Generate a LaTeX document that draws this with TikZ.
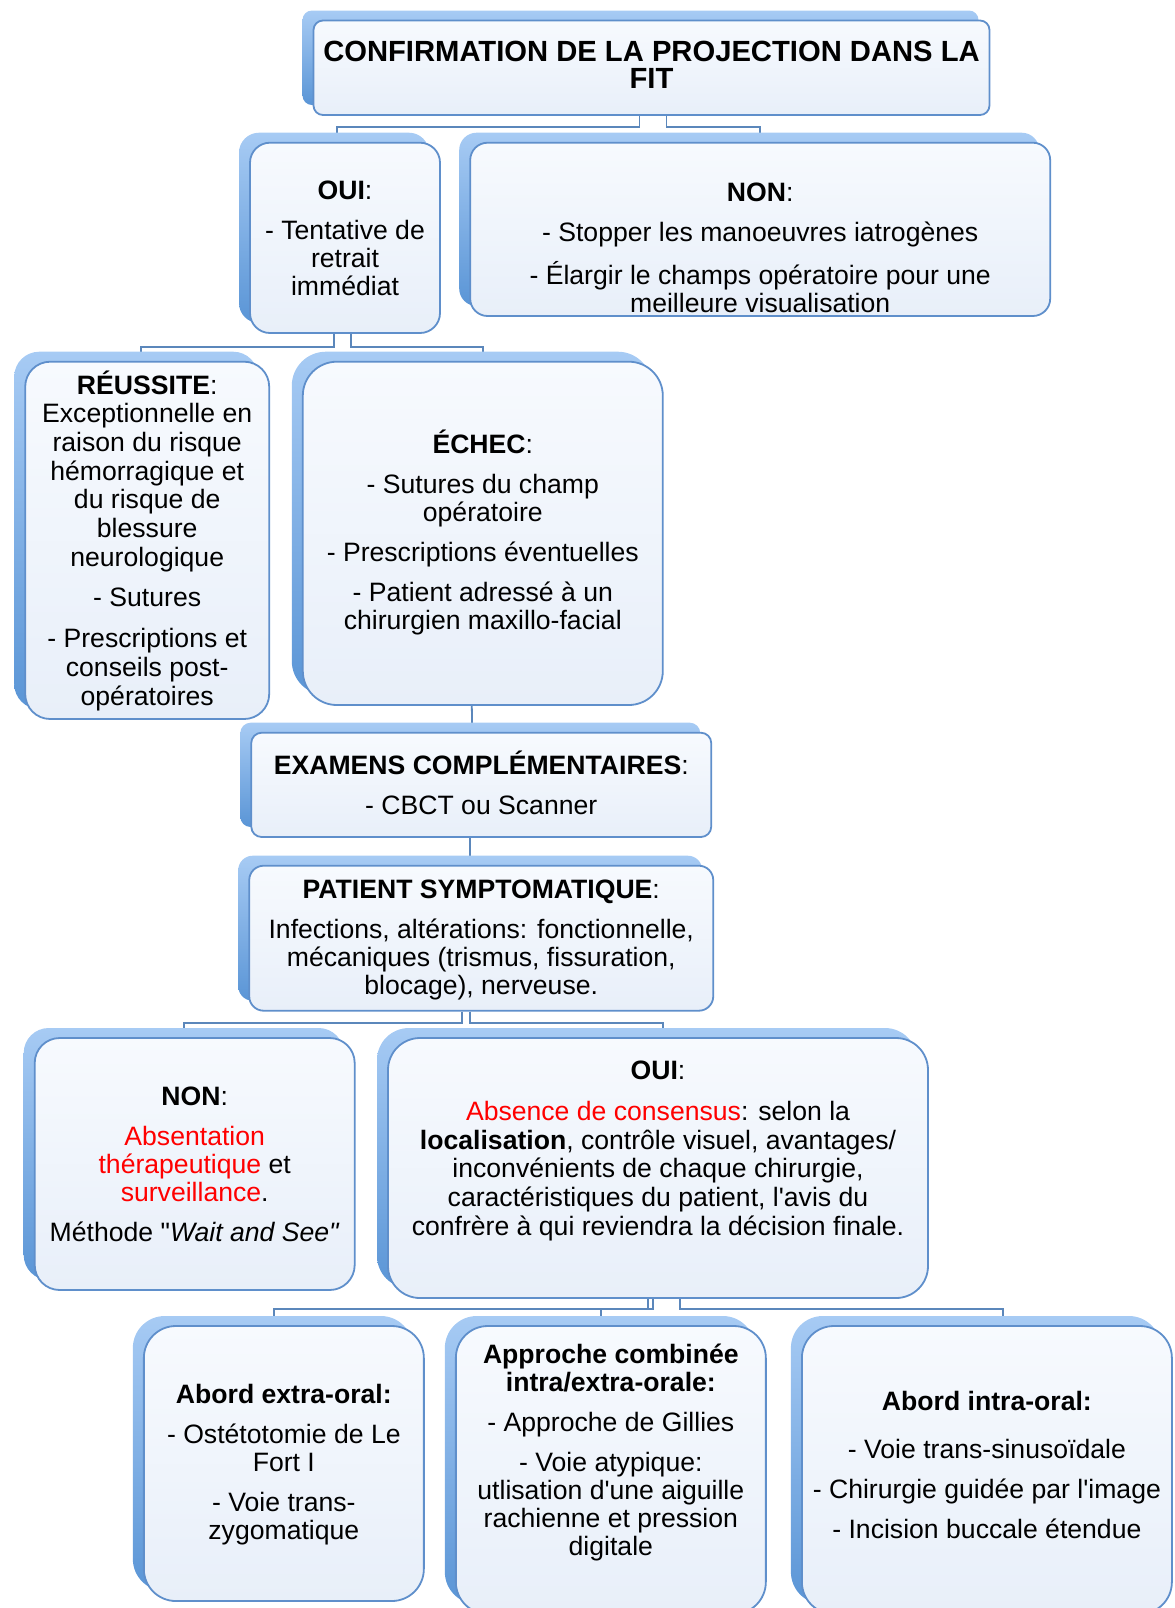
\documentclass[tikz,border=0pt]{standalone}
\usepackage{fontspec}
\setmainfont{Liberation Sans}
\usetikzlibrary{fit,backgrounds}
\definecolor{shtop}{HTML}{A7CBF4}
\definecolor{shbot}{HTML}{5A95D6}
\definecolor{boxtop}{HTML}{F7FAFE}
\definecolor{boxbot}{HTML}{E8EFF9}
\definecolor{boxline}{HTML}{5F8FCB}
\definecolor{linkcol}{HTML}{5B87BB}
\newcommand{\gap}{\\[6pt]}
\newcommand{\apos}{\textquotesingle}
\tikzset{
  smartbox/.style={inner sep=0pt, draw=boxline, line width=0.9pt,
    top color=boxtop, bottom color=boxbot, rounded corners=#1,
    align=center, font=\fontsize{13.3}{14}\selectfont,
    preaction={draw=none, top color=shtop, bottom color=shbot,
      transform canvas={shift={(-5.5pt,5pt)}}}},
  % positive lifts the text, negative lowers it
  textshift/.style={execute at end node={\par\vspace*{#1}}},
  link/.style={draw=linkcol, line width=0.9pt}
}
\begin{document}
\begin{tikzpicture}[x=0.5pt, y=-0.5pt]
  \useasboundingbox (0,0) rectangle (1174,1608);
  \node[smartbox=4.75pt, fit={(310,20.5) (993,115)}, text width=338pt, textshift=-7pt,
    font=\fontsize{14.6}{13.4}\selectfont\bfseries] (conf)
    {CONFIRMATION DE LA PROJECTION DANS LA\\FIT};
  \node[smartbox=10pt, fit={(246,142.7) (444,333)}, text width=95pt, textshift=-10pt] (oui1)
    {\textbf{OUI}:\gap - Tentative de\\retrait\\immédiat};
  \node[smartbox=8.7pt, fit={(464.4,142.7) (1056,316)}, text width=290pt, textshift=-27.5pt] (non1)
    {\textbf{NON}:\gap - Stopper les manoeuvres iatrogènes\gap
     - Élargir le champs opératoire pour une\\meilleure visualisation};
  \node[smartbox=12.5pt, fit={(21.4,361.7) (273,719)}, text width=122pt, textshift=-12pt,
    font=\fontsize{13.3}{14.35}\selectfont] (reussite)
    {\textbf{RÉUSSITE}:\\Exceptionnelle en\\raison du risque\\hémorragique et\\du risque de\\
     blessure\\neurologique\gap - Sutures\gap - Prescriptions et\\conseils post-\\opératoires};
  \node[smartbox=17pt, fit={(296,361.7) (669.6,705)}, text width=180pt, textshift=-11pt] (echec)
    {\textbf{ÉCHEC}:\gap - Sutures du champ\\opératoire\gap - Prescriptions éventuelles\gap
     - Patient adressé à un\\chirurgien maxillo-facial};
  \node[smartbox=5.2pt, fit={(246,732.7) (716.5,837)}, text width=230pt, textshift=-10pt] (examens)
    {\textbf{EXAMENS COMPLÉMENTAIRES}:\gap - CBCT ou Scanner};
  \node[smartbox=7.2pt, fit={(242.5,865.7) (720,1010.7)}, text width=232pt, textshift=-11.5pt] (patient)
    {\textbf{PATIENT SYMPTOMATIQUE}:\gap Infections, altérations: fonctionnelle,\\
     mécaniques (trismus, fissuration,\\blocage), nerveuse.};
  \node[smartbox=12.5pt, fit={(28.4,1038) (361,1290)}, text width=160pt, textshift=-10pt] (non2)
    {\textbf{NON}:\gap \textcolor{red}{Absentation}\\\textcolor{red}{thérapeutique} et\\
     \textcolor{red}{surveillance}.\gap Méthode \textquotedbl\textit{Wait and See\textquotedbl}};
  \node[smartbox=16pt, fit={(382,1038) (934,1298)}, text width=270pt, textshift=7.7pt,
    font=\fontsize{13.3}{14.35}\selectfont] (oui2)
    {\textbf{OUI}:\gap \textcolor{red}{Absence de consensus}: selon la\\
     \textbf{localisation}, contrôle visuel, avantages/\\inconvénients de chaque chirurgie,\\
     caractéristiques du patient, l\apos avis du\\confrère à qui reviendra la décision finale.};
  \node[smartbox=16pt, fit={(137.7,1326) (430,1601)}, text width=140pt, textshift=-11pt] (extra)
    {\textbf{Abord extra-oral:}\gap - Ostétotomie de Le\\Fort I\gap - Voie trans-\\zygomatique};
  \node[smartbox=16pt, fit={(450.7,1326) (771,1614)}, text width=155pt, textshift=8pt] (combine)
    {\textbf{Approche combinée}\\\textbf{intra/extra-orale:}\gap - Approche de Gillies\gap
     - Voie atypique:\\utlisation d\apos une aiguille\\rachienne et pression\\digitale};
  \node[smartbox=16pt, fit={(793.8,1326) (1180,1614)}, text width=185pt, textshift=-4.5pt] (intra)
    {\textbf{Abord intra-oral:}\\[10pt]- Voie trans-sinusoïdale\gap
     - Chirurgie guidée par l\apos image\gap - Incision buccale étendue};
  \begin{scope}[on background layer]
    \draw[link] ([xshift=-6pt]conf.south) -- ++(0,11) -| ([xshift=-4pt]oui1.north);
    \draw[link] ([xshift=7.5pt]conf.south) -- ++(0,11) -| (non1.north);
    \draw[link] ([xshift=-5.5pt]oui1.south) -- ++(0,13) -| ([xshift=-3pt]reussite.north);
    \draw[link] ([xshift=3pt]oui1.south) -- ++(0,13) -| (echec.north);
    \draw[link] ([xshift=-5.5pt]echec.south) -- ([xshift=-4.5pt]examens.north);
    \draw[link] ([xshift=-5.5pt]examens.south) -- ([xshift=-5.5pt]patient.north);
    \draw[link] ([xshift=-9.5pt]patient.south) -- ++(0,11.3) -| ([xshift=-5.5pt]non2.north);
    \draw[link] ([xshift=-5.5pt]patient.south) -- ++(0,11.3) -| ([xshift=2.5pt]oui2.north);
    \draw[link] ([xshift=-5pt]oui2.south) -- ++(0,10) -| ([xshift=-5pt]extra.north);
    \draw[link] ([xshift=-2.5pt]oui2.south) -- ++(0,10) -| ([xshift=-5pt]combine.north);
    \draw[link] ([xshift=11pt]oui2.south) -- ++(0,10) -| ([xshift=8pt]intra.north);
  \end{scope}
\end{tikzpicture}
\end{document}
